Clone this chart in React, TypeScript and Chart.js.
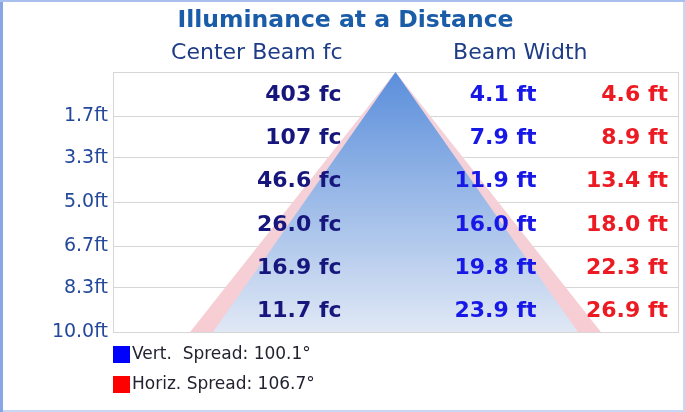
import React, { useEffect, useRef } from "react";
import { Chart, registerables } from "chart.js";

Chart.register(...registerables);

// ---- data ----
const distancesFt = [1.7, 3.3, 5.0, 6.7, 8.3, 10.0];
const centerBeamFc = [403, 107, 46.6, 26.0, 16.9, 11.7];
const vertBeamWidthFt = [4.1, 7.9, 11.9, 16.0, 19.8, 23.9];
const horizBeamWidthFt = [4.6, 8.9, 13.4, 18.0, 22.3, 26.9];
const vertSpreadDeg = 100.1;
const horizSpreadDeg = 106.7;
const titleText = "Illuminance at a Distance";
const headerCenter = "Center Beam fc";
const headerWidth = "Beam Width";

const FONT = "'DejaVu Sans', Verdana, sans-serif";

const fmtFc = (v: number) => (v >= 100 ? v.toFixed(0) : v.toFixed(1)) + " fc";
const fmtFt = (v: number) => v.toFixed(1) + " ft";

const overlayPlugin = {
  id: "overlay",
  afterDraw(chart: any) {
    const { ctx, chartArea, scales } = chart;
    const xs = scales.x;
    const ys = scales.y;
    const cx = xs.getPixelForValue(0);
    ctx.save();

    // outer frame
    ctx.strokeStyle = "#c9d8f2";
    ctx.lineWidth = 2;
    ctx.strokeRect(1, 1, chart.width - 2, chart.height - 2);
    ctx.fillStyle = "#86a6e6";
    ctx.fillRect(0, 0, 3, chart.height);
    ctx.fillStyle = "#a9c0ee";
    ctx.fillRect(0, 0, chart.width, 2);

    // title
    ctx.textBaseline = "middle";
    ctx.textAlign = "center";
    ctx.fillStyle = "#1b5ca8";
    ctx.font = `bold 23.5px ${FONT}`;
    ctx.fillText(titleText, chart.width / 2 + 3, 21);

    // headers
    ctx.textAlign = "right";
    ctx.fillStyle = "#1e3d86";
    ctx.font = `22px ${FONT}`;
    ctx.fillText(headerCenter, cx - 53, 53);
    ctx.fillText(headerWidth, cx + 192, 53);

    // row values
    ctx.font = `bold 22px ${FONT}`;
    distancesFt.forEach((d, i) => {
      const prev = i === 0 ? 0 : distancesFt[i - 1];
      const y = ys.getPixelForValue((prev + d) / 2) + 1;
      ctx.fillStyle = "#16167c";
      ctx.fillText(fmtFc(centerBeamFc[i]), cx - 54, y);
      ctx.fillStyle = "#1818e6";
      ctx.fillText(fmtFt(vertBeamWidthFt[i]), cx + 141, y);
      ctx.fillStyle = "#ec1a22";
      ctx.fillText(fmtFt(horizBeamWidthFt[i]), chartArea.right - 10, y);
    });

    // legend
    const items = [
      { color: "#0000ff", text: chart.data.datasets[0].label },
      { color: "#ff0000", text: chart.data.datasets[1].label },
    ];
    ctx.textAlign = "left";
    ctx.font = `17px ${FONT}`;
    items.forEach((it, i) => {
      const y = 355 + i * 30;
      ctx.fillStyle = it.color;
      ctx.fillRect(chartArea.left, y - 9, 17, 17);
      ctx.fillStyle = "#222230";
      ctx.fillText(it.text, chartArea.left + 19, y);
    });
    ctx.restore();
  },
};

export default function App() {
  const ref = useRef<HTMLCanvasElement>(null);
  useEffect(() => {
    if (!ref.current) return;
    const last = distancesFt.length - 1;
    const maxD = distancesFt[last];
    const vHalf = vertBeamWidthFt[last] / 2;
    const hHalf = horizBeamWidthFt[last] / 2;
    const chart = new Chart(ref.current, {
      type: "line",
      data: {
        datasets: [
          {
            label: `Vert.  Spread: ${vertSpreadDeg.toFixed(1)}°`,
            data: [
              { x: -vHalf, y: maxD },
              { x: 0, y: 0 },
              { x: vHalf, y: maxD },
            ],
            borderWidth: 0,
            pointRadius: 0,
            fill: { value: maxD },
            backgroundColor: (c: any) => {
              const area = c.chart.chartArea;
              if (!area) return "#9ab8e6";
              const g = c.chart.ctx.createLinearGradient(0, area.top, 0, area.bottom);
              g.addColorStop(0, "#5a8edb");
              g.addColorStop(1, "#e0e8f5");
              return g;
            },
          },
          {
            label: `Horiz. Spread: ${horizSpreadDeg.toFixed(1)}°`,
            data: [
              { x: -hHalf, y: maxD },
              { x: 0, y: 0 },
              { x: hHalf, y: maxD },
            ],
            borderWidth: 0,
            pointRadius: 0,
            fill: { value: maxD },
            backgroundColor: (c: any) => {
              const area = c.chart.chartArea;
              if (!area) return "#f7ced4";
              const g = c.chart.ctx.createLinearGradient(0, area.top, 0, area.bottom);
              g.addColorStop(0, "#f3d3dc");
              g.addColorStop(1, "#f7cdd3");
              return g;
            },
          },
        ],
      },
      options: {
        animation: false,
        responsive: false,
        events: [],
        layout: { padding: { top: 72, bottom: 80, right: 7, left: 0 } },
        plugins: { legend: { display: false }, tooltip: { enabled: false }, title: { display: false } },
        scales: {
          x: {
            type: "linear",
            min: -18.5,
            max: 18.5,
            z: 1,
            afterBuildTicks: (s: any) => {
              s.ticks = [-18.5, 0, 18.5].map((v) => ({ value: v }));
            },
            afterFit: (s: any) => {
              s.height = 0;
            },
            ticks: { display: false },
            grid: { color: "#d6d6d6", drawTicks: false, lineWidth: 1 },
            border: { display: true, color: "#d6d6d6" },
          },
          y: {
            type: "linear",
            min: 0,
            max: 10,
            reverse: true,
            z: 1,
            afterBuildTicks: (s: any) => {
              s.ticks = [0, ...distancesFt].map((v) => ({ value: v }));
            },
            afterFit: (s: any) => {
              s.width = 113;
            },
            ticks: {
              padding: 5,
              color: "#24489a",
              font: { family: FONT, size: 19 },
              callback: (v: any) => (v === 0 ? "" : Number(v).toFixed(1) + "ft"),
            },
            grid: { color: "#d6d6d6", drawTicks: false, lineWidth: 1 },
            border: { display: true, color: "#d6d6d6" },
          },
        },
      },
      plugins: [overlayPlugin],
    } as any);
    return () => chart.destroy();
  }, []);
  return (
    <div style={{ position: "fixed", left: 0, top: 0, width: 685, height: 412, background: "#fff" }}>
      <canvas ref={ref} width={685} height={412} style={{ display: "block" }} />
    </div>
  );
}
